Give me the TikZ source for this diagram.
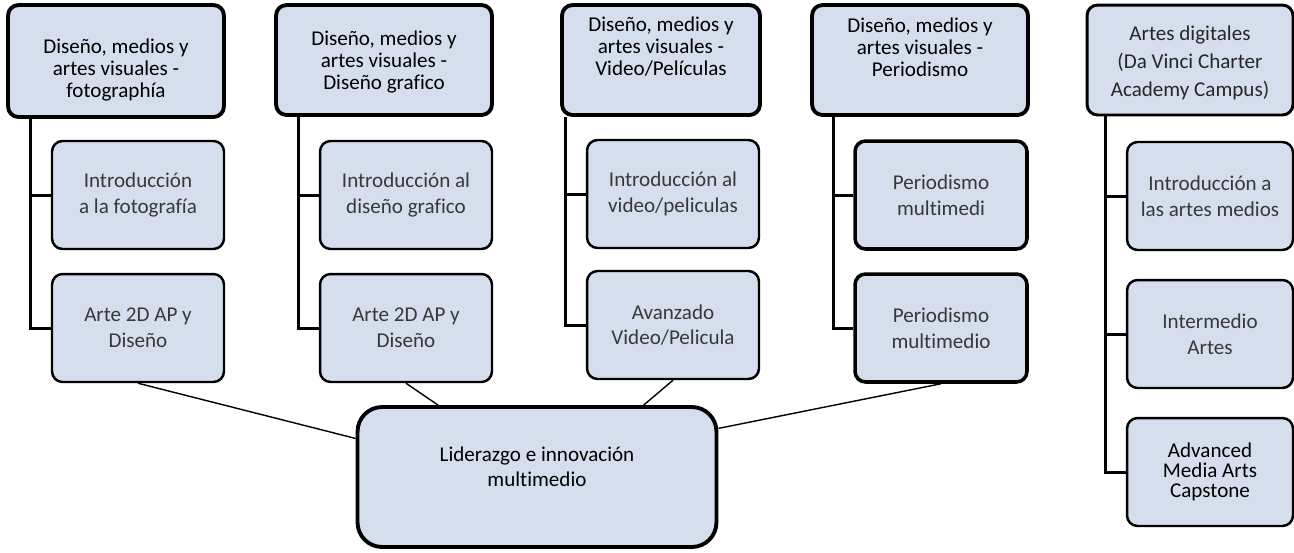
\documentclass[tikz,border=0pt]{standalone}
\usepackage{fontspec}
\setmainfont{Carlito}[Ligatures=NoCommon]
\definecolor{boxfill}{RGB}{213,222,236}

\begin{document}
\begin{tikzpicture}[x=0.02cm, y=0.02cm,
  headbox/.style={draw, line width=2.2pt, rounded corners=6pt, fill=boxfill, minimum height=2.2cm},
  headtext/.style={align=center, font=\fontsize{12}{12.5}\selectfont},
  course/.style={draw, line width=1.4pt, rounded corners=6pt, fill=boxfill, minimum width=3.44cm, minimum height=2.16cm, align=center, text=black!78, font=\fontsize{12}{14.6}\selectfont},
  bus/.style={line width=1.7pt},
  link/.style={line width=0.8pt}]
\useasboundingbox (0,0) rectangle (1294,-552);
\node[headbox, minimum width=4.32cm, minimum height=2.24cm] (t1) at (116,-61) {};
\node[headtext] (t1txt) at (116,-70) {Diseño, medios y\\artes visuales -\\fotographía};
\node[headbox, minimum width=4.32cm] (t2) at (384,-60) {};
\node[headtext] (t2txt) at (384,-62) {Diseño, medios y\\artes visuales -\\Diseño grafico};
\node[headbox, minimum width=3.96cm] (t3) at (661,-60) {};
\node[headtext] (t3txt) at (661,-47) {Diseño, medios y\\artes visuales -\\Video/Películas};
\node[headbox, minimum width=4.32cm] (t4) at (920,-60) {};
\node[headtext] (t4txt) at (920,-47) {Diseño, medios y\\artes visuales -\\Periodismo};
\node[headbox, line width=1.7pt, minimum width=4.12cm] (t5) at (1190,-60) {};
\node[headtext, text=black!85, font=\fontsize{12}{16}\selectfont] (t5txt) at (1190,-63) {Artes digitales\\(Da Vinci Charter\\Academy Campus)};

\node[course] (c11) at (138,-195) {Introducción\\a la fotografía};
\node[course] (c12) at (138,-328) {Arte 2D AP y\\Diseño};
\node[course] (c21) at (406,-195) {Introducción al\\diseño grafico};
\node[course] (c22) at (406,-328) {Arte 2D AP y\\Diseño};
\node[course] (c31) at (673,-194) {Introducción al\\video/peliculas};
\node[course] (c32) at (673,-325) {Avanzado\\Video/Pelicula};
\node[course, line width=2pt] (c41) at (941,-195) {Periodismo\\multimedi};
\node[course, line width=2pt] (c42) at (941,-328) {Periodismo\\multimedio};
\node[course, minimum width=3.32cm] (c51) at (1210,-196) {Introducción a\\las artes medios};
\node[course, minimum width=3.32cm] (c52) at (1210,-334) {Intermedio\\Artes};
\node[course, minimum width=3.32cm, text=black, font=\fontsize{12}{11.5}\selectfont] (c53) at (1210,-472) {Advanced\\Media Arts\\Capstone};

\node[draw, line width=2.2pt, rounded corners=14pt, fill=boxfill, minimum width=7.18cm, minimum height=2.8cm, align=center, text depth=12pt, font=\fontsize{12}{14.2}\selectfont] (lead) at (537,-477) {Liderazgo e innovación\\multimedio};

\foreach \c/\t in {1/t1,2/t2,3/t3,4/t4} {
  \coordinate (b\c) at ([xshift=-0.4cm]c\c1.west);
  \draw[bus] (b\c |- \t.south) |- (c\c2.west);
  \draw[bus] (b\c) -- (c\c1.west);
}
\coordinate (b5) at ([xshift=-0.4cm]c51.west);
\draw[bus] (b5 |- t5.south) |- (c53.west);
\draw[bus] (b5) -- (c51.west);
\draw[bus] (b5 |- c52.west) -- (c52.west);

\draw[link] (c12.south) -- (lead.168);
\draw[link] (c22.south) -- (lead.144);
\draw[link] (c32.south) -- (lead.34);
\draw[link] (c42.south) -- (lead.15);
\end{tikzpicture}
\end{document}
